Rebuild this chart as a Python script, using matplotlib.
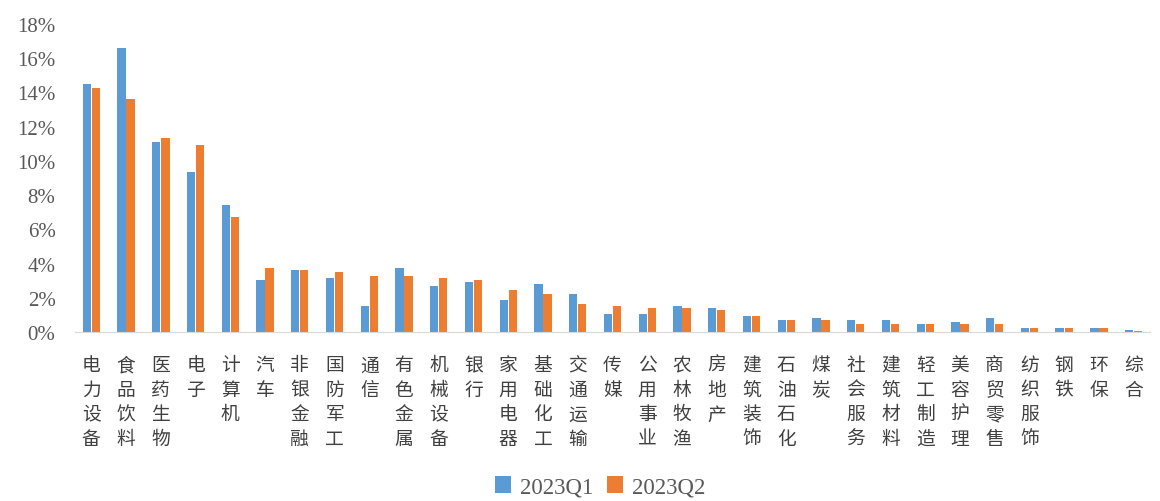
import matplotlib.pyplot as plt
import numpy as np

# 行业占比 (%)
industries = [
    "电力设备", "食品饮料", "医药生物", "电子", "计算机", "汽车", "非银金融",
    "国防军工", "通信", "有色金属", "机械设备", "银行", "家用电器", "基础化工",
    "交通运输", "传媒", "公用事业", "农林牧渔", "房地产", "建筑装饰", "石油石化",
    "煤炭", "社会服务", "建筑材料", "轻工制造", "美容护理", "商贸零售", "纺织服饰",
    "钢铁", "环保", "综合"
]
q1 = [14.5, 16.6, 11.1, 9.35, 7.4, 3.05, 3.65, 3.15, 1.5, 3.75, 2.7, 2.95, 1.85,
      2.8, 2.2, 1.05, 1.05, 1.5, 1.4, 0.95, 0.7, 0.8, 0.7, 0.7, 0.47, 0.58, 0.8,
      0.23, 0.23, 0.23, 0.1]
q2 = [14.25, 13.6, 11.35, 10.9, 6.7, 3.75, 3.65, 3.5, 3.3, 3.3, 3.15, 3.05, 2.45,
      2.2, 1.65, 1.5, 1.4, 1.4, 1.3, 0.95, 0.7, 0.7, 0.47, 0.47, 0.47, 0.47, 0.47,
      0.23, 0.23, 0.23, 0.03]
series = ["2023Q1", "2023Q2"]
colors = ["#5B9BD5", "#ED7D31"]

plt.rcParams['font.family'] = ['Noto Sans CJK SC', 'DejaVu Sans']

fig = plt.figure(figsize=(11.6, 5.02), dpi=100)
ax = fig.add_axes([75 / 1160, 1 - 333 / 502, 1075 / 1160, (333 - 25) / 502])

x = np.arange(len(industries))
w = 0.24
ax.bar(x - 0.13, q1, width=w, color=colors[0], label=series[0])
ax.bar(x + 0.13, q2, width=w, color=colors[1], label=series[1])

ax.set_xlim(-0.47, len(industries) - 0.53)
ax.set_ylim(0, 18)
ax.set_yticks(range(0, 19, 2))
ax.set_yticklabels([f"{v}%" for v in range(0, 19, 2)],
                   family='Liberation Serif', fontsize=15, color='#595959')

ax.set_xticks(x)
ax.set_xticklabels(["\n".join(n) for n in industries], fontsize=13.5,
                   color='#404040', va='top', linespacing=1.22)
ax.tick_params(axis='x', length=0, pad=16)
ax.tick_params(axis='y', length=0, pad=14)

for s in ['top', 'right', 'left']:
    ax.spines[s].set_visible(False)
ax.spines['bottom'].set_color('#D9D9D9')

leg = fig.legend(loc='center', bbox_to_anchor=(600 / 1160, 1 - 488 / 502), ncol=2,
                 frameon=False, handlelength=0.7, handleheight=0.7,
                 handletextpad=0.4, columnspacing=0.6,
                 prop={'family': 'Liberation Serif', 'size': 16.5})
for t in leg.get_texts():
    t.set_color('#595959')

fig.savefig("out.png", dpi=100)
